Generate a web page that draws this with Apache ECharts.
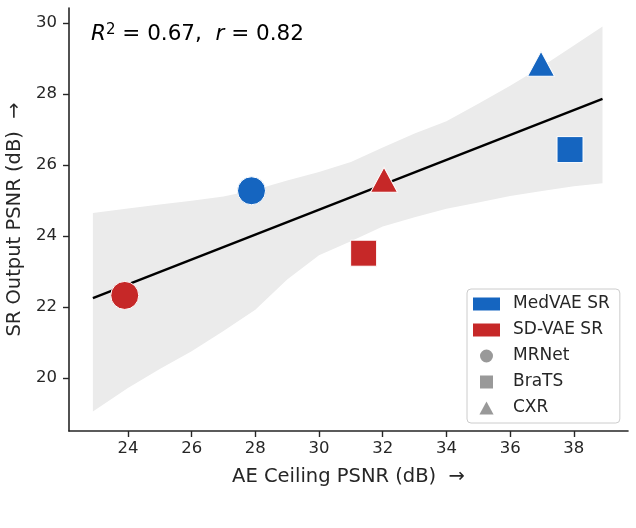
<!DOCTYPE html>
<html>
<head>
<meta charset="UTF-8">
<title>AE ceiling vs SR output</title>
<script src="https://cdn.jsdelivr.net/npm/echarts@6/dist/echarts.min.js"></script>
<style>
  html, body { margin: 0; padding: 0; background: #fff; }
  #main { width: 636px; height: 528px; }
</style>
</head>
<body>
<div id="main"></div>
<script>
// values
var datasets = ['MRNet', 'BraTS', 'CXR'];
var medvaeX = [27.88, 37.88, 36.97];
var medvaeY = [25.27, 26.43, 28.85];
var sdvaeX = [23.90, 31.40, 32.04];
var sdvaeY = [22.32, 23.51, 25.58];

// confidence band of the fit
var bandX    = [22.9, 24, 25, 26, 27, 28, 29, 30, 31, 32, 33, 34, 35, 36, 37, 38, 38.9];
var bandHigh = [24.64, 24.77, 24.88, 24.99, 25.11, 25.30, 25.56, 25.80, 26.08, 26.49, 26.88, 27.23, 27.72, 28.23, 28.77, 29.36, 29.90];
var bandLow  = [19.05, 19.71, 20.25, 20.75, 21.32, 21.92, 22.77, 23.45, 23.85, 24.26, 24.52, 24.76, 24.94, 25.12, 25.26, 25.40, 25.48];

var xTicks = [24, 26, 28, 30, 32, 34, 36, 38];
var yTicks = [20, 22, 24, 26, 28, 30];

var blue = '#1565c0', red = '#c62828', gray = '#808080', ink = '#262626';
var font = 'DejaVu Sans';
var symbolFor = { MRNet: 'circle', BraTS: 'rect', CXR: 'triangle' };
var sizeFor = { MRNet: 28, BraTS: 26, CXR: [27, 25] };

// least squares line through all six points
var allX = medvaeX.concat(sdvaeX), allY = medvaeY.concat(sdvaeY);
var mx = 0, my = 0;
for (var i = 0; i < allX.length; i++) { mx += allX[i]; my += allY[i]; }
mx /= allX.length; my /= allY.length;
var sxy = 0, sxx = 0;
for (var i = 0; i < allX.length; i++) { sxy += (allX[i] - mx) * (allY[i] - my); sxx += (allX[i] - mx) * (allX[i] - mx); }
var slope = sxy / sxx, icpt = my - slope * mx;
var fitX = [bandX[0], bandX[bandX.length - 1]];
var fitLine = fitX.map(function (x) { return [x, icpt + slope * x]; });

function points(xs, ys) {
  return datasets.map(function (d, k) {
    return { value: [xs[k], ys[k]], symbol: symbolFor[d], symbolSize: sizeFor[d] };
  });
}

var patch = 'path://M0,0H27V13H0Z';
var chart = echarts.init(document.getElementById('main'), null, { renderer: 'canvas' });

chart.setOption({
  animation: false,
  grid: { left: 69, right: 8, top: 8, bottom: 97, containLabel: false, outerBoundsMode: 'none' },
  xAxis: {
    type: 'value', min: 22.15, max: 39.7,
    name: 'AE Ceiling PSNR (dB)  \u2192', nameLocation: 'middle', nameGap: 36,
    nameTextStyle: { fontFamily: font, fontSize: 19.5, color: ink },
    axisLine: { show: true, onZero: false, lineStyle: { color: ink, width: 1.6 } },
    axisTick: { show: true, length: 6, customValues: xTicks, lineStyle: { color: ink, width: 1.4 } },
    axisLabel: { customValues: xTicks, fontFamily: font, fontSize: 16.5, color: ink, margin: 9 },
    splitLine: { show: false }
  },
  yAxis: {
    type: 'value', min: 18.5, max: 30.42,
    name: 'SR Output PSNR (dB)  \u2192', nameLocation: 'middle', nameGap: 42,
    nameTextStyle: { fontFamily: font, fontSize: 19.5, color: ink },
    axisLine: { show: true, onZero: false, lineStyle: { color: ink, width: 1.6 } },
    axisTick: { show: true, length: 6, customValues: yTicks, lineStyle: { color: ink, width: 1.4 } },
    axisLabel: { customValues: yTicks, fontFamily: font, fontSize: 16.5, color: ink, margin: 12 },
    splitLine: { show: false }
  },
  legend: {
    orient: 'vertical', left: 467, top: 289,
    padding: [6, 10, 6, 6], itemGap: 8,
    itemWidth: 27, itemHeight: 13,
    borderColor: '#cccccc', borderWidth: 1, borderRadius: 4,
    backgroundColor: 'rgba(255,255,255,0.85)',
    textStyle: { fontFamily: font, fontSize: 17, color: ink, lineHeight: 18, padding: [0, 0, 0, 8] },
    selectedMode: false,
    data: [
      { name: 'MedVAE SR', icon: patch, itemStyle: { color: blue, borderWidth: 0 } },
      { name: 'SD-VAE SR', icon: patch, itemStyle: { color: red, borderWidth: 0 } },
      { name: 'MRNet', icon: 'path://M6,0A6,6,0,1,1,5.99,0Z', itemStyle: { color: gray, borderWidth: 0 } },
      { name: 'BraTS', icon: 'path://M0,0H12V12H0Z', itemStyle: { color: gray, borderWidth: 0 } },
      { name: 'CXR', icon: 'path://M6,0L12,11H0Z', itemStyle: { color: gray, borderWidth: 0 } }
    ]
  },
  graphic: [{
    type: 'text', left: 91, top: 23, z: 10,
    style: {
      text: '{i|R}{s|2}{n| = 0.67,  }{i|r}{n| = 0.82}',
      rich: {
        i: { fontFamily: font, fontSize: 21.5, fontStyle: 'italic', fill: '#000' },
        s: { fontFamily: font, fontSize: 15, fill: '#000', verticalAlign: 'top' },
        n: { fontFamily: font, fontSize: 21.5, fill: '#000' }
      }
    }
  }],
  series: [
    {
      type: 'custom', name: 'band', silent: true, z: 1,
      data: [[bandX[0], bandLow[0]]],
      renderItem: function (params, api) {
        var pts = [];
        for (var k = 0; k < bandX.length; k++) pts.push(api.coord([bandX[k], bandHigh[k]]));
        for (var k = bandX.length - 1; k >= 0; k--) pts.push(api.coord([bandX[k], bandLow[k]]));
        return { type: 'polygon', shape: { points: pts }, style: { fill: '#ebebeb', stroke: 'none' } };
      }
    },
    {
      type: 'line', name: 'fit', silent: true, z: 2,
      data: fitLine, showSymbol: false,
      lineStyle: { color: '#000', width: 2.4 }
    },
    {
      type: 'scatter', name: 'MedVAE SR', z: 3, silent: true,
      data: points(medvaeX, medvaeY),
      itemStyle: { color: blue, borderColor: '#fff', borderWidth: 1, opacity: 1 }
    },
    {
      type: 'scatter', name: 'SD-VAE SR', z: 3, silent: true,
      data: points(sdvaeX, sdvaeY),
      itemStyle: { color: red, borderColor: '#fff', borderWidth: 1, opacity: 1 }
    },
    { type: 'scatter', name: 'MRNet', data: [], itemStyle: { color: gray } },
    { type: 'scatter', name: 'BraTS', data: [], itemStyle: { color: gray } },
    { type: 'scatter', name: 'CXR', data: [], itemStyle: { color: gray } }
  ]
});
</script>
</body>
</html>
